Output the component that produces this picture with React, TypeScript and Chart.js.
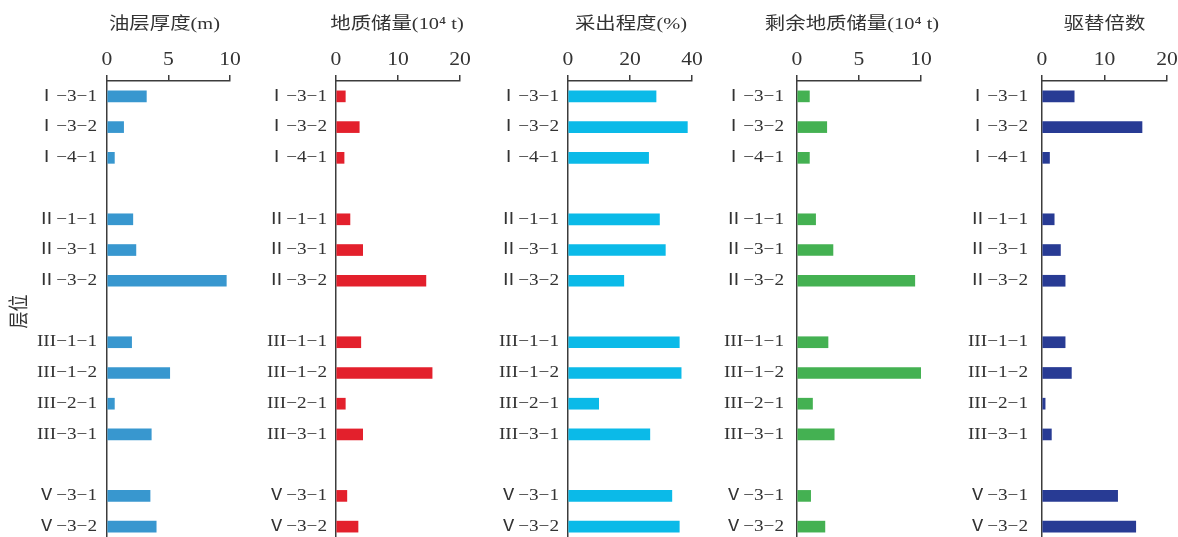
import React, { useEffect, useRef } from 'react';
import { Chart, registerables } from 'chart.js';

Chart.register(...registerables);

// Layer names, grouped by member; a blank row separates the groups.
const layerNames = [
  'Ⅰ−3−1', 'Ⅰ−3−2', 'Ⅰ−4−1',
  'Ⅱ−1−1', 'Ⅱ−3−1', 'Ⅱ−3−2',
  'III−1−1', 'III−1−2', 'III−2−1', 'III−3−1',
  'Ⅴ−3−1', 'Ⅴ−3−2',
];
const groupSizes = [3, 3, 4, 2];

// Reservoir thickness (m)
const thickness = [3.2, 1.35, 0.6, 2.1, 2.35, 9.7, 2.0, 5.1, 0.6, 3.6, 3.5, 4.0];
// Geological reserves (10^4 t)
const reserves = [1.5, 3.75, 1.3, 2.25, 4.3, 14.5, 4.0, 15.5, 1.5, 4.3, 1.75, 3.55];
// Recovery degree (%)
const recovery = [28.4, 38.5, 26.0, 29.5, 31.4, 18.0, 35.9, 36.5, 9.9, 26.4, 33.5, 35.9];
// Remaining geological reserves (10^4 t)
const remaining = [1.0, 2.4, 1.0, 1.5, 2.9, 9.5, 2.5, 10.0, 1.25, 3.0, 1.1, 2.25];
// Displacement multiple
const displacement = [5.15, 16.0, 1.2, 1.95, 2.95, 3.7, 3.7, 4.7, 0.5, 1.5, 12.1, 15.0];

// Axis ranges: [max, step]
const thicknessAxis = [10, 5];
const reservesAxis = [20, 10];
const recoveryAxis = [40, 20];
const remainingAxis = [10, 5];
const displacementAxis = [20, 10];

const panelTitles = [
  '油层厚度(m)',
  '地质储量(10⁴ t)',
  '采出程度(%)',
  '剩余地质储量(10⁴ t)',
  '驱替倍数',
];

function withGaps<T>(values: T[]): (T | null)[] {
  const out: (T | null)[] = [];
  let i = 0;
  groupSizes.forEach((n, g) => {
    if (g > 0) out.push(null);
    for (let k = 0; k < n; k++) out.push(values[i++]);
  });
  return out;
}

const rowLabels = withGaps(layerNames).map((v) => v ?? '');

const TEXT = '#333333';
const AXIS = '#3c3c3c';
const SERIF = "'Liberation Serif', 'Noto Sans CJK SC', serif";
const CANVAS_TOP = 1;
const CANVAS_H = 541;
const TEXT_STRETCH = 1.2; // lettering is set slightly wide

interface Panel {
  title: string;
  values: number[];
  axis: number[];
  color: string;
  left: number; // canvas left
  right: number; // chart area right edge
  padRight: number;
  axisWidth: number; // y-axis box width
  labelPad: number;
  titleDx: number;
  yTitle?: string;
}

const panels: Panel[] = [
  { title: panelTitles[0], values: thickness, axis: thicknessAxis, color: '#3897cf', left: 0, right: 231, padRight: 12, axisWidth: 107, labelPad: 10, titleDx: -4, yTitle: '层位' },
  { title: panelTitles[1], values: reserves, axis: reservesAxis, color: '#e3202c', left: 236, right: 460, padRight: 20, axisWidth: 100, labelPad: 9, titleDx: -1 },
  { title: panelTitles[2], values: recovery, axis: recoveryAxis, color: '#0bbae8', left: 468, right: 693, padRight: 12, axisWidth: 100, labelPad: 9, titleDx: 1 },
  { title: panelTitles[3], values: remaining, axis: remainingAxis, color: '#44b152', left: 697, right: 921, padRight: 30, axisWidth: 100, labelPad: 13, titleDx: -7 },
  { title: panelTitles[4], values: displacement, axis: displacementAxis, color: '#283b94', left: 942, right: 1168, padRight: 12, axisWidth: 100, labelPad: 14, titleDx: 0 },
];

// Widen every piece of text horizontally about its anchor point (in screen space).
function stretchText(ctx: CanvasRenderingContext2D, sx: number) {
  const orig = ctx.fillText.bind(ctx);
  (ctx as any).fillText = (text: string, x: number, y: number, maxWidth?: number) => {
    const m = ctx.getTransform();
    const p = m.transformPoint(new DOMPoint(x, y));
    ctx.save();
    ctx.setTransform(
      new DOMMatrix().translate(p.x, p.y).scale(sx, 1).translate(-p.x, -p.y).multiply(m)
    );
    if (maxWidth === undefined) orig(text, x, y);
    else orig(text, x, y, maxWidth);
    ctx.restore();
  };
}

// Draws the panel heading above the top axis.
const panelTitlePlugin = {
  id: 'panelTitle',
  afterDraw(chart: any, _args: any, opts: any) {
    const { ctx, chartArea } = chart;
    ctx.save();
    ctx.font = `17px ${SERIF}`;
    ctx.fillStyle = TEXT;
    ctx.textAlign = 'center';
    ctx.textBaseline = 'middle';
    const x = (chartArea.left + chartArea.right) / 2 + (opts.dx || 0);
    ctx.fillText(opts.text, x, 24);
    ctx.restore();
  },
};

function PanelChart({ panel }: { panel: Panel }) {
  const ref = useRef<HTMLCanvasElement | null>(null);
  const width = panel.right + panel.padRight - panel.left;

  useEffect(() => {
    if (!ref.current) return;
    const ctx = ref.current.getContext('2d');
    if (!ctx) return;
    stretchText(ctx, TEXT_STRETCH);
    const [max, step] = panel.axis;
    const chart = new Chart(ctx, {
      type: 'bar',
      data: {
        labels: rowLabels,
        datasets: [
          {
            data: withGaps(panel.values) as any,
            backgroundColor: panel.color,
            borderWidth: 0,
            barThickness: 11,
          },
        ],
      },
      options: {
        indexAxis: 'y',
        responsive: false,
        animation: false,
        devicePixelRatio: 1,
        layout: { padding: { top: 0, right: panel.padRight, bottom: 0, left: 0 } },
        plugins: {
          legend: { display: false },
          tooltip: { enabled: false },
          panelTitle: { text: panel.title, dx: panel.titleDx },
        } as any,
        scales: {
          x: {
            position: 'top',
            min: 0,
            max,
            ticks: {
              stepSize: step,
              color: TEXT,
              font: { family: SERIF, size: 18 },
              padding: 4,
              maxRotation: 0,
            },
            grid: {
              drawOnChartArea: false,
              drawTicks: true,
              tickLength: 6,
              color: AXIS,
              lineWidth: 1.5,
            },
            border: { display: true, color: AXIS, width: 1.5 },
            afterFit: (s: any) => {
              s.height = 80;
            },
          },
          y: {
            ticks: {
              color: TEXT,
              font: { family: SERIF, size: 16 },
              padding: panel.labelPad,
              autoSkip: false,
            },
            grid: { display: false, drawTicks: false },
            border: { display: true, color: AXIS, width: 1.5 },
            title: panel.yTitle
              ? {
                  display: true,
                  text: panel.yTitle,
                  color: TEXT,
                  font: { family: "'Noto Sans CJK SC', sans-serif", size: 17 },
                  padding: { top: 8, bottom: 0 },
                }
              : { display: false },
            afterFit: (s: any) => {
              s.width = panel.axisWidth;
              s.paddingTop = 0;
              s.paddingBottom = 0;
            },
          },
        },
      } as any,
      plugins: [panelTitlePlugin],
    });
    return () => chart.destroy();
  }, [panel, width]);

  return (
    <canvas
      ref={ref}
      width={width}
      height={CANVAS_H}
      style={{ position: 'absolute', left: panel.left, top: CANVAS_TOP, width, height: CANVAS_H }}
    />
  );
}

export default function App() {
  return (
    <div
      style={{
        position: 'fixed',
        left: 0,
        top: 0,
        width: 1178,
        height: 537,
        overflow: 'hidden',
        background: '#ffffff',
      }}
    >
      {panels.map((p, i) => (
        <PanelChart key={i} panel={p} />
      ))}
    </div>
  );
}
